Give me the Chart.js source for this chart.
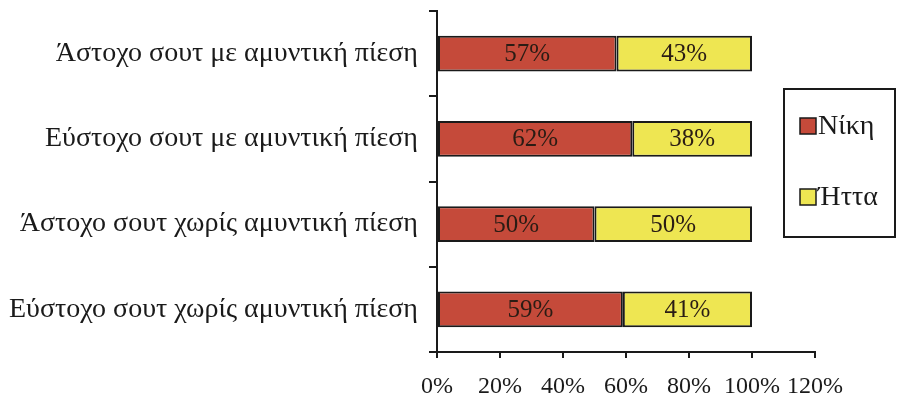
<!DOCTYPE html>
<html>
<head>
<meta charset="utf-8">
<script src="https://cdn.jsdelivr.net/npm/chart.js@4/dist/chart.umd.min.js"></script>
<style>
html,body{margin:0;padding:0;background:#fff;}
#wrap{width:900px;height:400px;position:relative;}
</style>
</head>
<body>
<div id="wrap"><canvas id="c" width="900" height="400"></canvas></div>
<script>
const categories = [
  "Άστοχο σουτ με αμυντική πίεση",
  "Εύστοχο σουτ με αμυντική πίεση",
  "Άστοχο σουτ χωρίς αμυντική πίεση",
  "Εύστοχο σουτ χωρίς αμυντική πίεση"
];
const winValues = [57, 62, 50, 59];
const lossValues = [43, 38, 50, 41];
const seriesNames = ["Νίκη", "Ήττα"];
const xTicks = [0, 20, 40, 60, 80, 100, 120];

const FONT = "'Liberation Serif', 'Times New Roman', serif";
const RED = "rgb(197,74,58)";
const YELLOW = "rgb(238,230,82)";
const INK = "#1a1a1a";

const dataLabels = {
  id: 'dataLabels',
  afterDatasetsDraw(chart) {
    const ctx = chart.ctx;
    ctx.save();
    ctx.font = "25px " + FONT;
    ctx.fillStyle = "#2a1c14";
    ctx.textAlign = "center";
    ctx.textBaseline = "middle";
    chart.data.datasets.forEach((ds, di) => {
      const meta = chart.getDatasetMeta(di);
      meta.data.forEach((el, i) => {
        const cx = (el.x + el.base) / 2;
        ctx.fillText(ds.data[i] + "%", cx, el.y + 1);
      });
    });
    ctx.restore();
  }
};

const boxLegend = {
  id: 'boxLegend',
  afterDraw(chart) {
    const ctx = chart.ctx;
    ctx.save();
    ctx.strokeStyle = INK;
    ctx.lineWidth = 2;
    ctx.strokeRect(784, 89, 111, 148);
    const rows = [126, 197];
    chart.data.datasets.forEach((ds, di) => {
      const cy = rows[di];
      ctx.fillStyle = ds.backgroundColor;
      ctx.fillRect(800, cy - 8, 16, 16);
      ctx.lineWidth = 1.5;
      ctx.strokeStyle = INK;
      ctx.strokeRect(800, cy - 8, 16, 16);
      ctx.fillStyle = INK;
      ctx.font = "28px " + FONT;
      ctx.textAlign = "left";
      ctx.textBaseline = "middle";
      ctx.fillText(ds.label, 818, cy + 1);
    });
    ctx.restore();
  }
};

new Chart(document.getElementById('c'), {
  type: 'bar',
  data: {
    labels: categories,
    datasets: [
      { label: seriesNames[0], data: winValues, backgroundColor: RED, borderColor: INK, borderWidth: 2, borderSkipped: false },
      { label: seriesNames[1], data: lossValues, backgroundColor: YELLOW, borderColor: INK, borderWidth: 2, borderSkipped: false }
    ]
  },
  options: {
    indexAxis: 'y',
    responsive: false,
    animation: false,
    devicePixelRatio: 1,
    layout: { padding: { top: 11, right: 85, left: 0, bottom: 0 } },
    datasets: { bar: { barPercentage: 0.42, categoryPercentage: 1 } },
    plugins: { legend: { display: false }, tooltip: { enabled: false } },
    scales: {
      x: {
        stacked: true,
        min: 0, max: 120,
        afterBuildTicks(scale) { scale.ticks = xTicks.map(v => ({ value: v })); },
        afterFit(scale) { scale.height = 48; scale.paddingLeft = 0; scale.paddingRight = 0; },
        border: { display: true, color: INK, width: 2 },
        grid: { display: true, drawOnChartArea: false, drawTicks: true, tickLength: 6, color: INK, lineWidth: 2 },
        ticks: { color: INK, font: { family: FONT, size: 24 }, padding: 14, maxRotation: 0, callback: v => v + "%" }
      },
      y: {
        stacked: true,
        afterFit(scale) { scale.width = 437; scale.paddingTop = 0; scale.paddingBottom = 0; },
        border: { display: true, color: INK, width: 2 },
        grid: { display: true, offset: true, drawOnChartArea: false, drawTicks: true, tickLength: 8, color: INK, lineWidth: 2 },
        ticks: { color: INK, font: { family: FONT, size: 28 }, padding: 11 }
      }
    }
  },
  plugins: [dataLabels, boxLegend]
});
</script>
</body>
</html>
